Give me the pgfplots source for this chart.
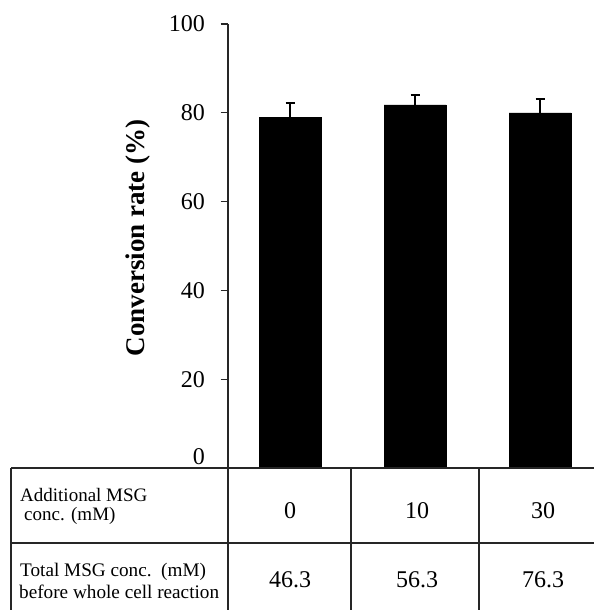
\documentclass[border=0pt]{standalone}
\usepackage{fontspec}
\setmainfont{Liberation Serif}
\usepackage{pgfplots}
\pgfplotsset{compat=1.18}
\begin{document}
\begin{tikzpicture}[x=1pt,y=1pt]
\useasboundingbox (0,0) rectangle (594,610);
\begin{axis}[
  at={(228pt,142pt)}, anchor=south west,
  scale only axis, width=366pt, height=444pt,
  xmin=-0.496, xmax=2.432, ymin=0, ymax=100,
  axis y line*=left, axis x line*=bottom,
  xtick=\empty,
  ytick={0,20,40,60,80,100},
  yticklabels={\raisebox{11pt}[\height][\depth]{0},20,40,60,80,100},
  tick align=outside, major tick length=7.5pt,
  every tick/.style={line width=1.2pt, black!85},
  axis line style={line width=1.2pt, black!85},
  yticklabel style={font=\fontsize{24}{26}\selectfont, xshift=-12pt},
  /pgf/number format/assume math mode=true,
  ybar, bar width=62pt,
  clip=false,
]
\addplot[fill=black, draw=black,
  error bars/.cd, y dir=plus, y explicit,
  error bar style={line width=1.2pt, black},
  error mark options={rotate=90, mark size=4.5pt, line width=1.2pt, black}]
  coordinates {(0,79) +- (0,3.2) (1,81.8) +- (0,2.2) (2,80) +- (0,3.1)};
\end{axis}
% table
\draw[line width=1.3pt, black!85] (11,142) -- (594,142);
\draw[line width=1.3pt, black!85] (11,67) -- (594,67);
\draw[line width=1.3pt, black!85] (11,142) -- (11,0);
\draw[line width=1.3pt, black!85] (228,142) -- (228,0);
\draw[line width=1.3pt, black!85] (351,142) -- (351,0);
\draw[line width=1.3pt, black!85] (479,142) -- (479,0);
\begin{scope}[every node/.style={inner sep=0pt, font=\fontsize{19}{20}\selectfont}]
\node[anchor=base west] at (20,108) {Additional MSG};
\node[anchor=base west] at (24,89) {conc. (mM)};
\end{scope}
\begin{scope}[every node/.style={inner sep=0pt, font=\fontsize{19.2}{21}\selectfont}]
\node[anchor=base west] at (20,33) {Total MSG conc.\ \ (mM)};
\node[anchor=base west] at (19,12) {before whole cell reaction};
\end{scope}
\begin{scope}[every node/.style={inner sep=0pt, font=\fontsize{24}{26}\selectfont}]
\node at (290,99) {0};
\node at (417,99) {10};
\node at (543,99) {30};
\node at (290,30) {46.3};
\node at (417,30) {56.3};
\node at (543,30) {76.3};
\end{scope}
\node[rotate=90, inner sep=0pt, font=\bfseries\fontsize{27}{30}\selectfont] at (138,372) {Conversion rate (\%)};
\end{tikzpicture}
\end{document}
